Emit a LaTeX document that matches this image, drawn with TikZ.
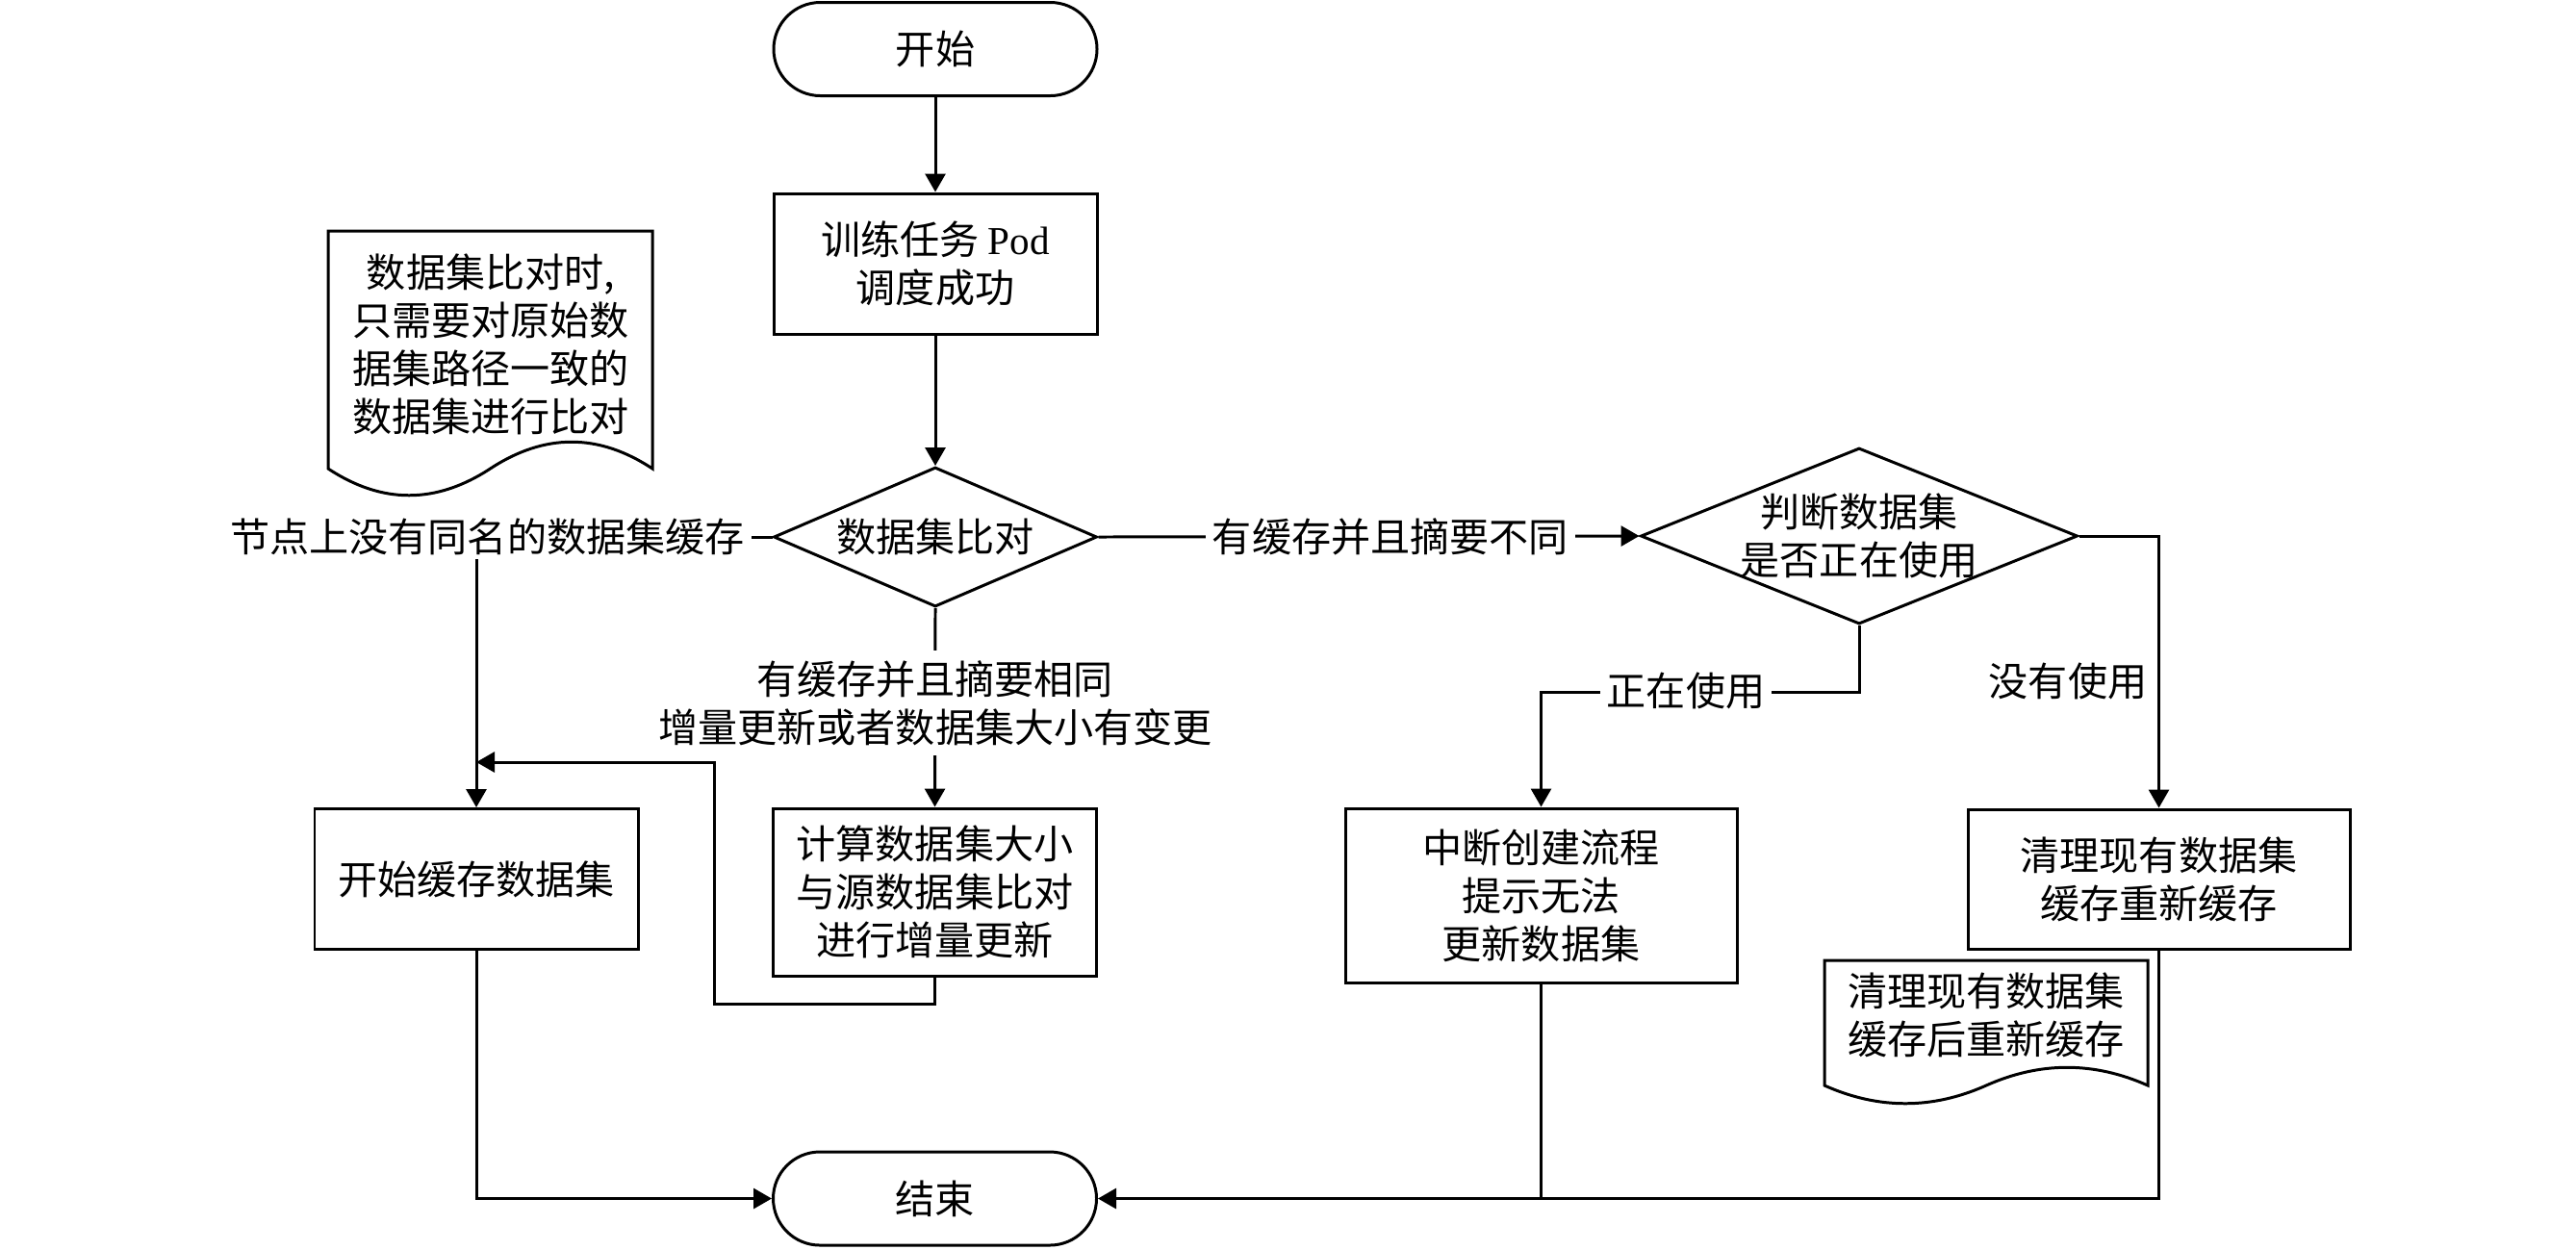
\documentclass[tikz,border=0pt]{standalone}
\usepackage{fontspec}
\setmainfont{Noto Sans CJK SC}
\newfontfamily\latinfont{Liberation Serif}
\usetikzlibrary{shapes.geometric, arrows.meta, positioning}

\tikzset{
    base/.style={draw, line width=0.85pt, align=center, font=\fontsize{11.7pt}{14.2pt}\selectfont},
    terminal/.style={base, rectangle, rounded corners=0.485cm, minimum width=3.36cm, minimum height=0.97cm},
    process/.style={base, rectangle, minimum width=3.36cm, minimum height=1.46cm},
    decision/.style={base, diamond, aspect=2.3, inner sep=0pt},
    notetext/.style={align=center, font=\fontsize{11.7pt}{14.2pt}\selectfont},
    edgelabel/.style={notetext, fill=white, inner xsep=2pt, inner ysep=1pt},
    arr/.style={-{Triangle[length=1.9mm, width=2.1mm]}, line width=0.85pt},
    line/.style={line width=0.85pt}
}

\begin{document}
\begin{tikzpicture}
    % canvas
    \useasboundingbox (0,0) rectangle (26.77,-12.98);

    % main column
    \node[terminal] (start) at (9.72,-0.51) {开始};
    \node[process] (pod) at (9.72,-2.74) {训练任务 {\latinfont Pod}\\调度成功};
    \node[decision, minimum width=3.36cm, minimum height=1.45cm] (cmp) at (9.72,-5.58) {数据集比对};
    \node[decision, minimum width=4.54cm, minimum height=1.83cm,
          label={[notetext]center:判断数据集\\是否正在使用}] (chk) at (19.32,-5.57) {};

    % second row
    \node[process] (cache) at (4.95,-9.135) {开始缓存数据集};
    \node[process, minimum height=1.74cm] (calc) at (9.715,-9.27) {计算数据集大小\\与源数据集比对\\进行增量更新};
    \node[process, minimum width=4.07cm, minimum height=1.81cm] (abort) at (16.015,-9.305) {中断创建流程\\提示无法\\更新数据集};
    \node[process, minimum width=3.97cm, minimum height=1.45cm] (clean) at (22.435,-9.135) {清理现有数据集\\缓存重新缓存};
    \node[terminal] (end) at (9.715,-12.455) {结束};

    % notes
    \draw[line] (3.41,-4.87) -- (3.41,-2.40) -- (6.78,-2.40) -- (6.78,-4.87)
        .. controls (6.22,-4.50) and (5.66,-4.50) .. (5.095,-4.87)
        .. controls (4.53,-5.24) and (3.97,-5.24) .. (3.41,-4.87) -- cycle;
    \node[notetext] (note1) at (5.10,-3.575) {数据集比对时,\\只需要对原始数\\据集路径一致的\\数据集进行比对};
    \draw[line] (18.96,-11.28) -- (18.96,-9.98) -- (22.32,-9.98) -- (22.32,-11.28)
        .. controls (21.76,-11.03) and (21.20,-11.03) .. (20.64,-11.28)
        .. controls (20.08,-11.53) and (19.52,-11.53) .. (18.96,-11.28) -- cycle;
    \node[notetext] (note2) at (20.64,-10.55) {清理现有数据集\\缓存后重新缓存};

    % connectors
    \coordinate (merge) at (4.95,-7.92);
    \draw[arr] (start) -- (pod);
    \draw[arr] (pod) -- (cmp);
    \draw[arr] (cmp.west) -- (cache.north |- cmp.west) -- (cache.north);
    \draw[arr] (cmp.east) -- (chk.west);
    \draw[arr] (cmp.south) -- (calc.north);
    \draw[arr] (calc.south) -- ++(0,-0.28) -| (7.42,-7.92) -- (merge);
    \draw[arr] (chk.south) -- ++(0,-0.69) -| (abort.north);
    \draw[arr] (chk.east) -| (clean.north);
    \draw[arr] (cache.south) |- (end.west);
    \draw[arr] (clean.south) |- (end.east);
    \draw[line] (abort.south) -- (abort.south |- end.east);

    % labels on the connectors
    \node[edgelabel] (lblnone) at (5.065,-5.58) {节点上没有同名的数据集缓存};
    \node[edgelabel] (lbldiff) at (14.45,-5.58) {有缓存并且摘要不同};
    \node[edgelabel, inner ysep=3pt] (lblsame) at (9.72,-7.305) {有缓存并且摘要相同\\增量更新或者数据集大小有变更};
    \node[edgelabel] (lblbusy) at (17.52,-7.18) {正在使用};
    \node[notetext] (lblfree) at (21.49,-7.08) {没有使用};
\end{tikzpicture}
\end{document}
